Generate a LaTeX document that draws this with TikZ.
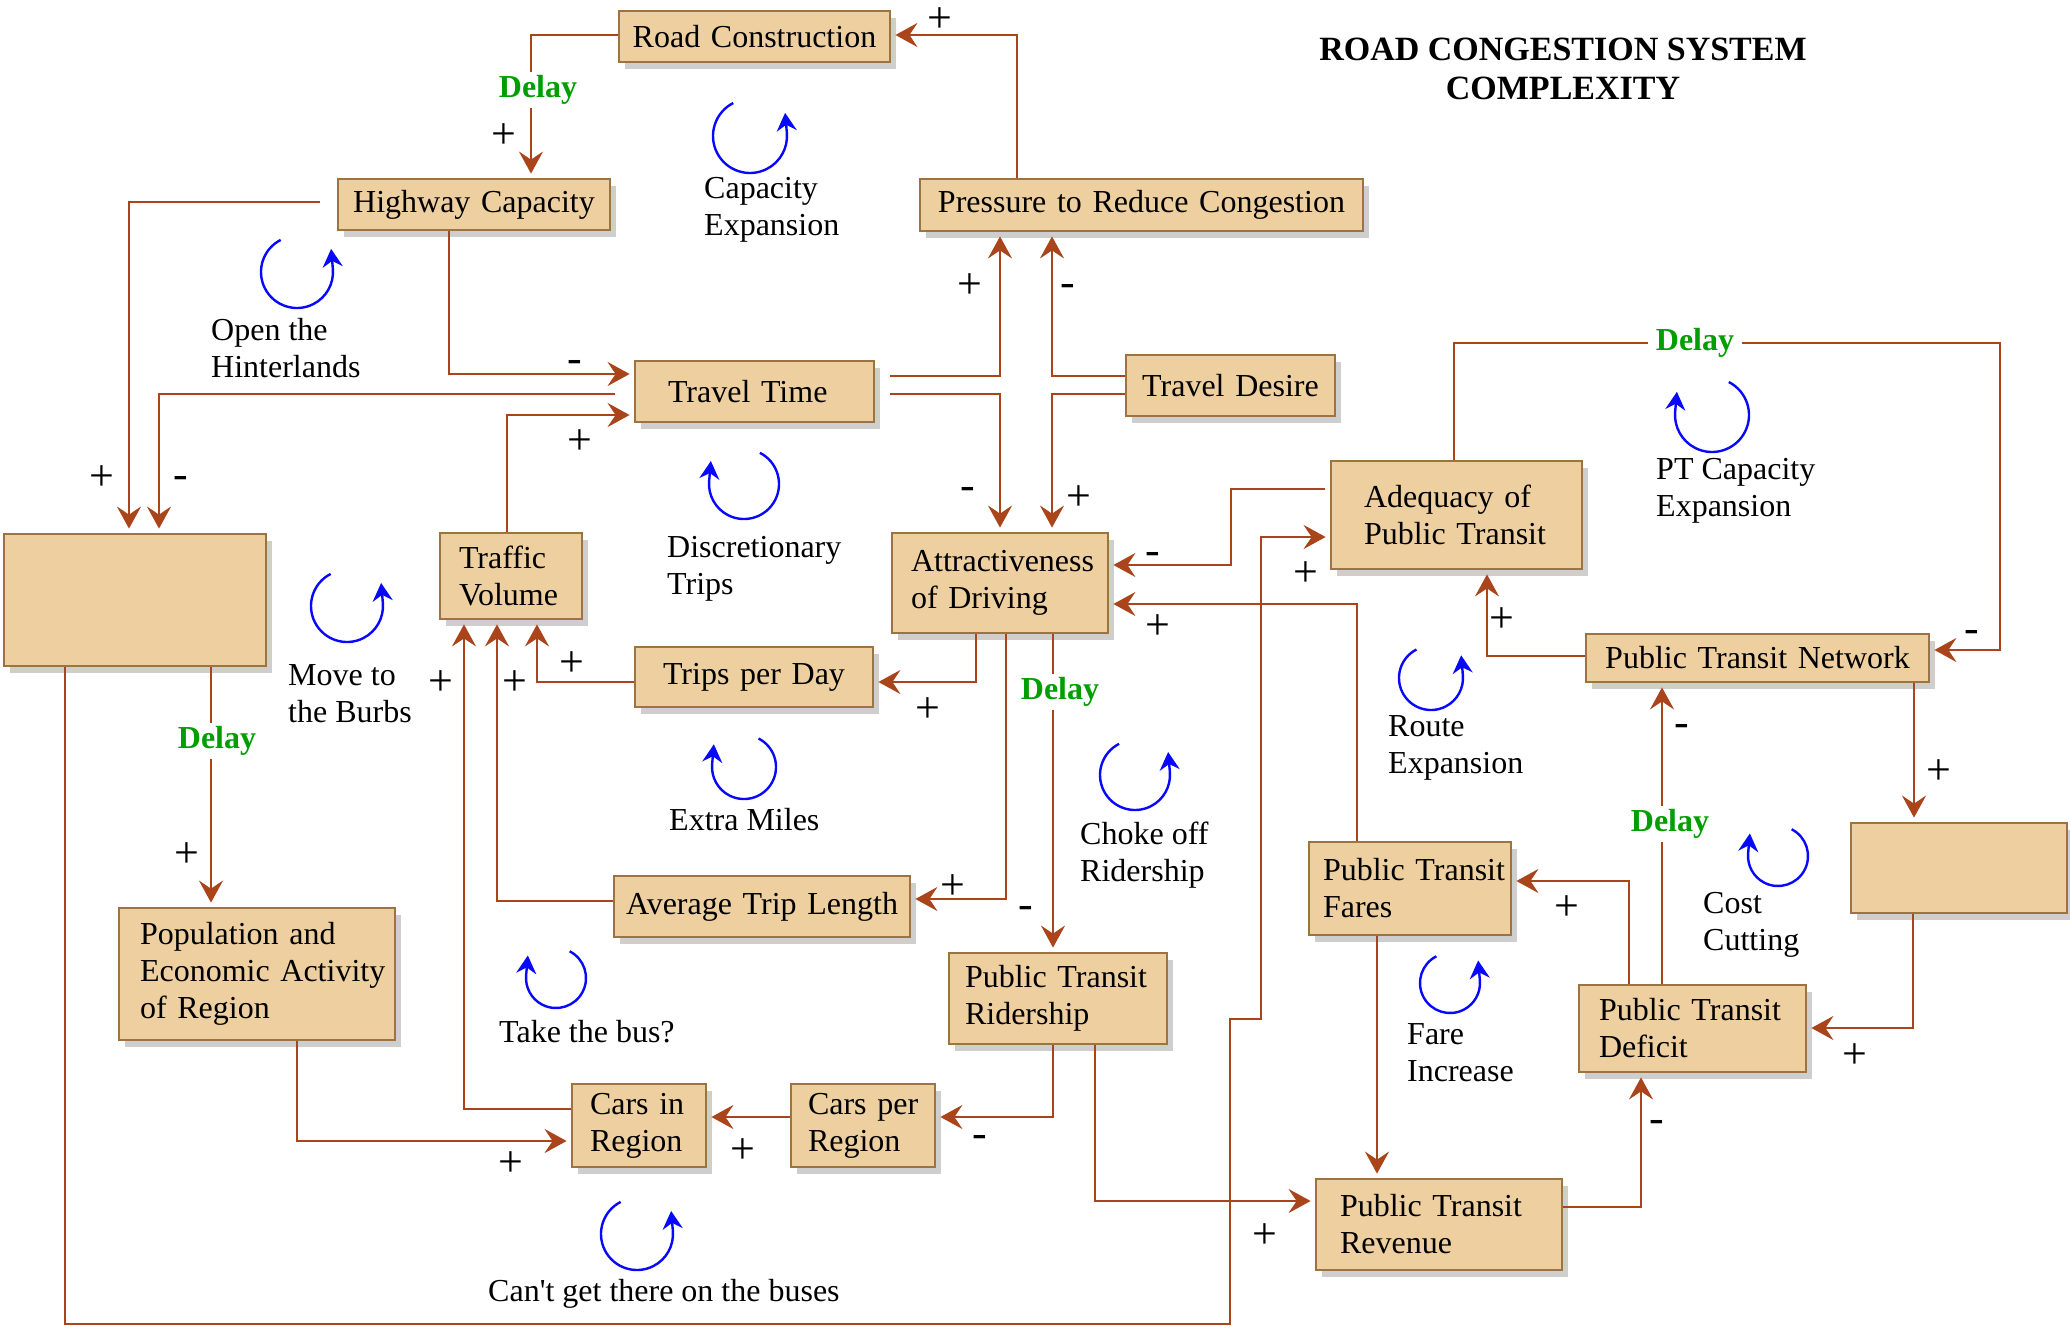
\documentclass[tikz,border=0pt]{standalone}
\usepackage{fontspec}
\setmainfont{Liberation Serif}[Ligatures=TeXOff]
\usetikzlibrary{arrows.meta,shadows}

\definecolor{boxfill}{RGB}{238,208,160}
\definecolor{boxedge}{RGB}{156,115,65}
\definecolor{link}{RGB}{170,68,26}
\definecolor{loopblue}{RGB}{8,8,255}
\definecolor{delaygreen}{RGB}{0,158,0}
\definecolor{shade}{RGB}{206,206,206}

% left-indented text block inside a variable box
\newcommand\boxtext[2]{\leftskip=#1pt\relax#2\par}
\hyphenpenalty=10000

\tikzset{
  var/.style={draw=boxedge, line width=2.8pt, fill=boxfill, inner sep=0pt,
    drop shadow={shadow xshift=6pt, shadow yshift=-7pt, fill=shade, opacity=1},
    font=\fontsize{32}{37}\selectfont, text=black},
  conn/.style={draw=link, line width=2.6pt, shorten >=4pt,
    -{Stealth[length=22pt, width=24pt, inset=8pt]}},
  sign/.style={font=\fontsize{44}{44}\selectfont, inner sep=0pt},
  delay/.style={font=\bfseries\fontsize{32}{37}\selectfont, text=delaygreen,
    fill=white, inner xsep=8pt, inner ysep=3pt},
  looparc/.style={draw=loopblue, line width=2.4pt,
    -{Stealth[length=18pt, width=20pt, inset=6pt]}},
  looptext/.style={font=\fontsize{32}{37}\selectfont, align=left, anchor=west, inner sep=0pt},
}

\begin{document}
\begin{tikzpicture}[x=1pt, y=-1pt]
\fill[white] (0,0) rectangle (2070,1331);
\useasboundingbox (0,0) rectangle (2070,1331);

% ---------- title ----------
\node[font=\bfseries\fontsize{34}{39}\selectfont, align=center, inner sep=0pt] (title)
  at (1563,68.5) {ROAD CONGESTION SYSTEM\\COMPLEXITY};

% ---------- variables ----------
\node[var, text width=271pt, minimum height=51pt, align=center] (rc) at (754.5,36.5) {Road Construction};
\node[var, text width=272pt, minimum height=51pt, align=center] (hc) at (474,204.5) {Highway Capacity};
\node[var, text width=443pt, minimum height=52pt, align=center] (prc) at (1141.5,205) {Pressure to Reduce Congestion};
\node[var, text width=239pt, minimum height=61pt, align=left] (tt) at (754.5,391.5) {\boxtext{33}{Travel Time}};
\node[var, text width=209pt, minimum height=61pt, align=center] (td) at (1230.5,385.5) {Travel Desire};
\node[var, text width=216pt, minimum height=100pt, align=left] (ad) at (1000,583) {\boxtext{19}{Attractiveness\\of Driving}};
\node[var, text width=251pt, minimum height=108pt, align=left] (apt) at (1456.5,515) {\boxtext{33}{Adequacy of\\Public Transit}};
\node[var, text width=343pt, minimum height=48pt, align=center] (ptn) at (1757.5,658) {Public Transit Network};
\node[var, minimum width=216pt, minimum height=90pt] (re) at (1959,868) {};
\node[var, text width=202pt, minimum height=93pt, align=left] (ptf) at (1410,888.5) {\boxtext{14}{Public Transit\\Fares}};
\node[var, text width=227pt, minimum height=87pt, align=left] (ptd) at (1692.5,1028.5) {\boxtext{20}{Public Transit\\Deficit}};
\node[var, text width=246pt, minimum height=91pt, align=left] (ptr) at (1439,1224.5) {\boxtext{24}{Public Transit\\Revenue}};
\node[var, minimum width=262pt, minimum height=132pt] (le) at (135,600) {};
\node[var, text width=142pt, minimum height=86pt, align=left] (tv) at (511,576) {\boxtext{19}{Traffic\\Volume}};
\node[var, text width=238pt, minimum height=60pt, align=center] (tpd) at (754,677) {Trips per Day};
\node[var, text width=296pt, minimum height=61pt, align=center] (atl) at (762,906.5) {Average Trip Length};
\node[var, text width=218pt, minimum height=91pt, align=left] (ptrd) at (1058,998.5) {\boxtext{16}{Public Transit\\Ridership}};
\node[var, text width=134pt, minimum height=83pt, align=left] (cir) at (639,1125.5) {\boxtext{18}{Cars in\\Region}};
\node[var, text width=144pt, minimum height=83pt, align=left] (cpr) at (863,1125.5) {\boxtext{17}{Cars per\\Region}};
\node[var, text width=276pt, minimum height=132pt, align=left] (pea) at (257,974) {\boxtext{21}{Population and\\Economic Activity\\of Region}};

% ---------- causal links ----------
\draw[conn] (rc.west |- 0,35) -| (hc.north -| 531,0);
\draw[conn] (prc.north -| 1017,0) |- (rc.east |- 0,35);
\draw[conn] (hc.south -| 449,0) |- (tt.west |- 0,374);
\draw[conn, shorten <=17pt] (hc.west |- 0,202) -| (le.north -| 129,0);
\draw[conn, shorten <=19pt] (tt.west |- 0,394) -| (le.north -| 159,0);
\draw[conn] (tv.north -| 507,0) |- (tt.west |- 0,415);
\draw[conn, shorten <=15pt] (tt.east |- 0,376) -| (prc.south -| 1000,0);
\draw[conn] (td.west |- 0,376) -| (prc.south -| 1052,0);
\draw[conn, shorten <=15pt] (tt.east |- 0,394) -| (ad.north -| 1000,0);
\draw[conn] (td.west |- 0,394) -| (ad.north -| 1052,0);
\draw[conn, shorten <=5pt] (apt.west |- 0,489) -| (1231,527) |- (ad.east |- 0,565);
\draw[conn] (ptf.north -| 1357,0) |- (ad.east |- 0,604);
\draw[conn] (le.south -| 65,0) |- (1230,1324) |- (1261,1019) |- (apt.west |- 0,537);
\draw[conn] (le.south -| 211,0) -- (pea.north -| 211,0);
\draw[conn] (ad.south -| 976,0) |- (tpd.east |- 0,682);
\draw[conn] (ad.south -| 1006,0) |- (atl.east |- 0,899);
\draw[conn] (ad.south -| 1053,0) -- (ptrd.north -| 1053,0);
\draw[conn] (tpd.west |- 0,682) -| (tv.south -| 537,0);
\draw[conn] (atl.west |- 0,901) -| (tv.south -| 497,0);
\draw[conn] (cir.west |- 0,1109) -| (tv.south -| 464,0);
\draw[conn] (pea.south -| 297,0) |- (cir.west |- 0,1141);
\draw[conn] (cpr.west |- 0,1117) -- (cir.east |- 0,1117);
\draw[conn] (ptrd.south -| 1053,0) |- (cpr.east |- 0,1117);
\draw[conn] (ptrd.south -| 1095,0) |- (ptr.west |- 0,1201);
\draw[conn] (ptf.south -| 1377,0) -- (ptr.north -| 1377,0);
\draw[conn] (ptr.east |- 0,1207) -| (ptd.south -| 1641,0);
\draw[conn] (ptd.north -| 1629,0) |- (ptf.east |- 0,881);
\draw[conn] (ptd.north -| 1662,0) -- (ptn.south -| 1662,0);
\draw[conn] (ptn.south -| 1914,0) -- (re.north -| 1914,0);
\draw[conn] (re.south -| 1913,0) |- (ptd.east |- 0,1028);
\draw[conn] (ptn.west |- 0,656) -| (apt.south -| 1487,0);
\draw[conn] (apt.north -| 1454,0) |- (2000,343) |- (ptn.east |- 0,650);

% ---------- delays ----------
\node[delay] (d1) at (538,90) {Delay};
\node[delay] (d2) at (217,741) {Delay};
\node[delay] (d3) at (1060,692) {Delay};
\node[delay] (d4) at (1670,824) {Delay};
\node[delay] (d5) at (1695,343) {Delay};

% ---------- polarities ----------
\node[sign] (s1) at (504,136) {+};
\node[sign] (s2) at (940,20) {+};
\node[sign] (s3) at (575,366) {-};
\node[sign] (s4) at (102,478) {+};
\node[sign] (s5) at (181,482) {-};
\node[sign] (s6) at (580,442) {+};
\node[sign] (s7) at (970,286) {+};
\node[sign] (s8) at (1068,290) {-};
\node[sign] (s9) at (968,493) {-};
\node[sign] (s10) at (1079,498) {+};
\node[sign] (s11) at (1153,558) {-};
\node[sign] (s12) at (1158,627) {+};
\node[sign] (s13) at (1306,574) {+};
\node[sign] (s14) at (187,855) {+};
\node[sign] (s15) at (928,710) {+};
\node[sign] (s16) at (953,887) {+};
\node[sign] (s17) at (1026,912) {-};
\node[sign] (s18) at (572,664) {+};
\node[sign] (s19) at (515,683) {+};
\node[sign] (s20) at (441,683) {+};
\node[sign] (s21) at (511,1164) {+};
\node[sign] (s22) at (743,1151) {+};
\node[sign] (s23) at (980,1141) {-};
\node[sign] (s24) at (1265,1236) {+};
\node[sign] (s26) at (1657,1126) {-};
\node[sign] (s27) at (1567,908) {+};
\node[sign] (s28) at (1682,730) {-};
\node[sign] (s29) at (1939,772) {+};
\node[sign] (s30) at (1855,1056) {+};
\node[sign] (s31) at (1502,620) {+};
\node[sign] (s32) at (1972,636) {-};

% ---------- feedback loops ----------
% counter-clockwise loops (arrow on the right)
\draw[looparc] (750,136)  ++(-117:37) arc[start angle=-117, end angle=-365, radius=37] -- ++(-95:20);
\draw[looparc] (297,272)  ++(-117:36) arc[start angle=-117, end angle=-365, radius=36] -- ++(-95:20);
\draw[looparc] (347,606)  ++(-117:36) arc[start angle=-117, end angle=-365, radius=36] -- ++(-95:20);
\draw[looparc] (637,1234) ++(-117:36) arc[start angle=-117, end angle=-365, radius=36] -- ++(-95:20);
\draw[looparc] (1135,775) ++(-117:35) arc[start angle=-117, end angle=-365, radius=35] -- ++(-95:20);
\draw[looparc] (1431,678) ++(-117:32) arc[start angle=-117, end angle=-365, radius=32] -- ++(-95:20);
\draw[looparc] (1450,983) ++(-117:30) arc[start angle=-117, end angle=-365, radius=30] -- ++(-95:20);
% clockwise loops (arrow on the left)
\draw[looparc] (744,484)  ++(-63:35) arc[start angle=-63, end angle=185, radius=35] -- ++(-85:20);
\draw[looparc] (744,767)  ++(-63:32) arc[start angle=-63, end angle=185, radius=32] -- ++(-85:20);
\draw[looparc] (556,978)  ++(-63:30) arc[start angle=-63, end angle=185, radius=30] -- ++(-85:20);
\draw[looparc] (1712,415) ++(-63:37) arc[start angle=-63, end angle=185, radius=37] -- ++(-85:20);
\draw[looparc] (1778,856) ++(-63:30) arc[start angle=-63, end angle=185, radius=30] -- ++(-85:20);

\node[looptext] (l1) at (704,209.5) {Capacity\\Expansion};
\node[looptext] (l2) at (211,348.5) {Open the\\Hinterlands};
\node[looptext] (l3) at (667,569) {Discretionary\\Trips};
\node[looptext] (l4) at (288,693.5) {Move to\\the Burbs};
\node[looptext] (l5) at (669,820) {Extra Miles};
\node[looptext] (l6) at (499,1032) {Take the bus?};
\node[looptext] (l7) at (488,1294) {Can't get there on the buses};
\node[looptext] (l8) at (1080,855) {Choke off\\Ridership};
\node[looptext] (l9) at (1388,748) {Route\\Expansion};
\node[looptext] (l10) at (1656,490.5) {PT Capacity\\Expansion};
\node[looptext] (l11) at (1407,1052.5) {Fare\\Increase};
\node[looptext] (l12) at (1703,924.5) {Cost\\Cutting};
\end{tikzpicture}
\end{document}
